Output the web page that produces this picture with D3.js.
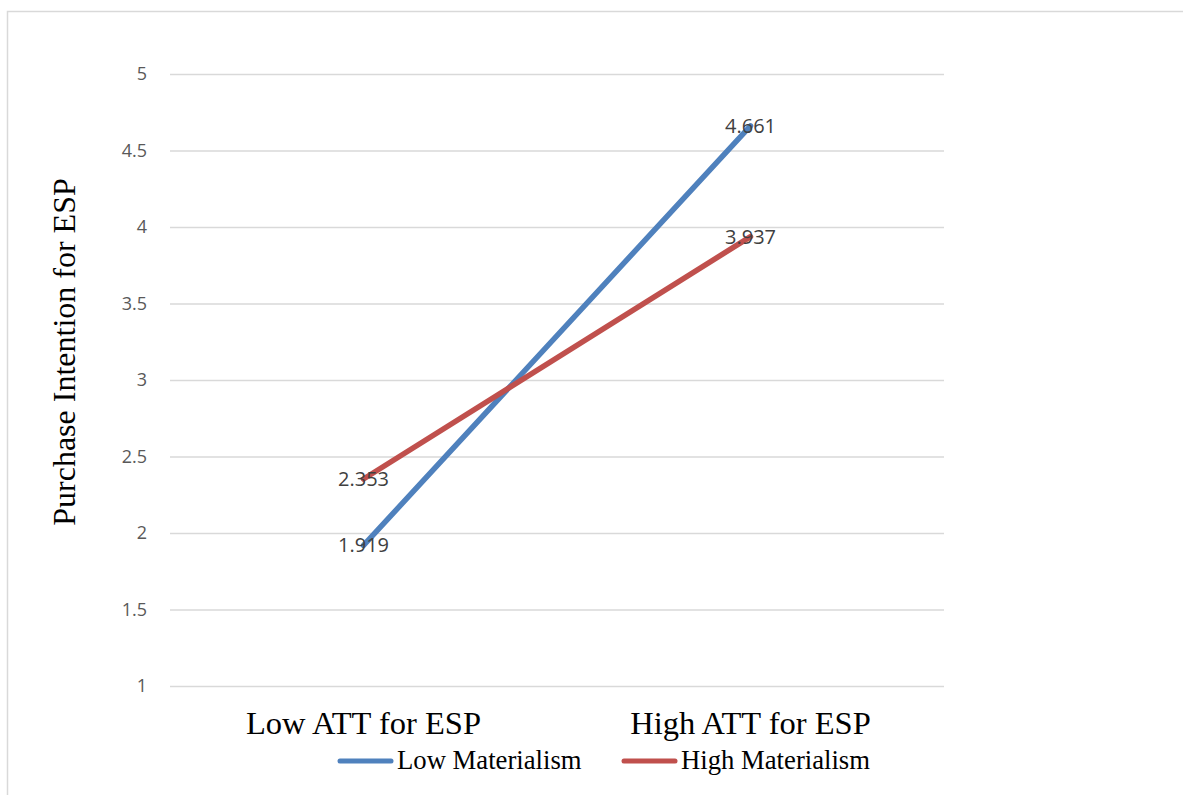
<!DOCTYPE html>
<html>
<head>
<meta charset="utf-8">
<script src="https://cdn.jsdelivr.net/npm/d3@7"></script>
<style>
  html, body { margin: 0; padding: 0; background: #fff; }
  svg { display: block; }
</style>
</head>
<body>
<svg id="chart" width="1183" height="795"></svg>
<script>
const categories = ["Low ATT for ESP", "High ATT for ESP"];
const seriesNames = ["Low Materialism", "High Materialism"];
const lowMaterialism = [1.919, 4.661];
const highMaterialism = [2.353, 3.937];
const seriesColors = ["#4f81bd", "#c0504d"];
const yTicks = [1, 1.5, 2, 2.5, 3, 3.5, 4, 4.5, 5];
const yTitle = "Purchase Intention for ESP";

const svg = d3.select("#chart");
const plot = { left: 170, right: 944, top: 74, bottom: 686 };

// outer border
svg.append("rect")
  .attr("x", 7.5).attr("y", 11.5)
  .attr("width", 1190).attr("height", 800)
  .attr("fill", "none").attr("stroke", "#d9d9d9").attr("stroke-width", 1.5);

const x = d3.scaleBand().domain(categories).range([plot.left, plot.right]).padding(0);
const y = d3.scaleLinear().domain([1, 5]).range([plot.bottom, plot.top]);

// gridlines + tick labels via axis
const yAxis = d3.axisLeft(y).tickValues(yTicks).tickSize(-(plot.right - plot.left)).tickPadding(23)
  .tickFormat(d3.format("~g"));
const gy = svg.append("g").attr("transform", `translate(${plot.left},0)`).call(yAxis);
gy.select(".domain").remove();
gy.selectAll(".tick line").attr("stroke", "#d9d9d9").attr("stroke-width", 1.5);
gy.selectAll(".tick text")
  .attr("fill", "#595959")
  .style("font-family", "'Open Sans', 'Noto Sans', sans-serif")
  .style("font-size", "18px");

// x axis labels
const xAxis = d3.axisBottom(x).tickSize(0).tickPadding(0);
const gx = svg.append("g").attr("transform", `translate(0,${plot.bottom})`).call(xAxis);
gx.select(".domain").remove();
gx.selectAll(".tick text")
  .attr("fill", "#000")
  .attr("dy", 0)
  .attr("y", 48)
  .style("font-family", "'Liberation Serif', 'Times New Roman', serif")
  .style("font-size", "32.5px");

// y title
svg.append("text")
  .attr("transform", `translate(75,352) rotate(-90)`)
  .attr("text-anchor", "middle")
  .attr("fill", "#000")
  .style("font-family", "'Liberation Serif', 'Times New Roman', serif")
  .style("font-size", "32px")
  .text(yTitle);

// lines
const seriesData = [lowMaterialism, highMaterialism];
const line = d3.line()
  .x((d, i) => x(categories[i]) + x.bandwidth() / 2)
  .y(d => y(d));

seriesData.forEach((vals, si) => {
  svg.append("path")
    .datum(vals)
    .attr("d", line)
    .attr("fill", "none")
    .attr("stroke", seriesColors[si])
    .attr("stroke-width", 5.5)
    .attr("stroke-linecap", "round");
});

// data labels (centered on points)
seriesData.forEach((vals, si) => {
  svg.append("g").selectAll("text")
    .data(vals)
    .join("text")
    .attr("x", (d, i) => x(categories[i]) + x.bandwidth() / 2)
    .attr("y", d => y(d))
    .attr("dy", "0.35em")
    .attr("text-anchor", "middle")
    .attr("fill", "#404040")
    .style("font-family", "'Open Sans', 'Noto Sans', sans-serif")
    .style("font-size", "20px")
    .text(d => d3.format(".3f")(d));
});

// legend
const legendItems = [
  { name: seriesNames[0], color: seriesColors[0], x0: 338 },
  { name: seriesNames[1], color: seriesColors[1], x0: 622 }
];
const lg = svg.append("g");
legendItems.forEach(item => {
  lg.append("line")
    .attr("x1", item.x0 + 2).attr("x2", item.x0 + 53)
    .attr("y1", 761).attr("y2", 761)
    .attr("stroke", item.color).attr("stroke-width", 5).attr("stroke-linecap", "round");
  lg.append("text")
    .attr("x", item.x0 + 59).attr("y", 769)
    .attr("fill", "#000")
    .style("font-family", "'Liberation Serif', 'Times New Roman', serif")
    .style("font-size", "26.7px")
    .text(item.name);
});
</script>
</body>
</html>
